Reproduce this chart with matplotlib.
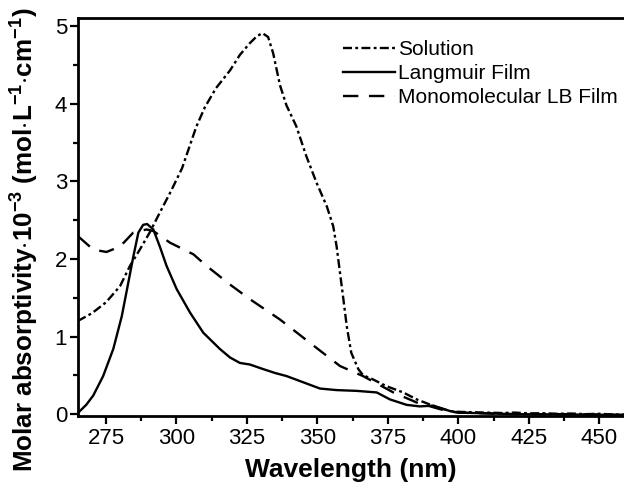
import matplotlib
matplotlib.use("Agg")
import matplotlib.pyplot as plt
from matplotlib.ticker import MultipleLocator

plt.rcParams['font.family'] = ['Liberation Sans', 'DejaVu Sans']
plt.rcParams['mathtext.fontset'] = 'custom'
plt.rcParams['mathtext.rm'] = 'Liberation Sans:bold'
plt.rcParams['mathtext.bf'] = 'Liberation Sans:bold'
plt.rcParams['mathtext.default'] = 'bf'

# Solution (dash-dot)
sol_wl = [265, 270, 275, 280, 283.5, 287, 290.5, 294, 298, 302, 307, 310, 314, 319,
          322.5, 326, 328.5, 330.5, 332.5, 334.3, 336.7, 339, 342.5, 346, 349.7,
          353.3, 355.6, 356.8, 358, 359.2, 360.4, 362, 364.5, 366.2, 369, 374.5,
          380.4, 385.2, 392.3, 397, 400, 405, 410, 415, 420, 425, 430, 435, 440,
          445, 450, 455, 459]
sol_val = [1.20, 1.30, 1.44, 1.65, 1.91, 2.12, 2.34, 2.59, 2.87, 3.17, 3.70, 3.95, 4.20, 4.43,
           4.63, 4.78, 4.87, 4.91, 4.86, 4.65, 4.24, 3.98, 3.71, 3.33, 2.98,
           2.68, 2.42, 2.16, 1.82, 1.48, 1.13, 0.79, 0.58, 0.50, 0.46, 0.36,
           0.28, 0.19, 0.09, 0.04, 0.03, 0.025, 0.02, 0.015, 0.02, 0.01, 0.012, 0.005, 0.008,
           0.0, 0.005, -0.005, -0.005]

# Langmuir film (solid)
lf_wl = [265.2, 268, 270.5, 274, 277.6, 280.6, 282.9, 284.7, 286.5, 288.2, 289.6, 291.8,
         294.1, 296.5, 300.1, 304.8, 309.5, 315.4, 319, 322.5, 326, 330.8, 335, 339.1,
         345, 350.9, 356.8, 363.9, 371, 375.7, 381.6, 386.3, 391.1, 397, 400, 410, 420,
         440, 459]
lf_val = [0.02, 0.12, 0.24, 0.49, 0.84, 1.26, 1.69, 2.03, 2.34, 2.44, 2.45, 2.38,
          2.16, 1.91, 1.61, 1.31, 1.05, 0.84, 0.73, 0.66, 0.64, 0.58, 0.53, 0.49,
          0.41, 0.33, 0.31, 0.30, 0.28, 0.19, 0.12, 0.10, 0.11, 0.04, 0.02, 0.01, 0.0,
          -0.005, -0.01]

# Monomolecular LB film (dashed)
lb_wl = [265.2, 270.5, 275.2, 280, 284.7, 289.4, 291.8, 297.7, 306, 310.7, 319, 326.1,
         336.7, 347.3, 358, 366.2, 376.9, 385.2, 395.8, 400, 410, 420, 440, 459]
lb_val = [2.29, 2.12, 2.09, 2.16, 2.34, 2.38, 2.36, 2.21, 2.06, 1.91, 1.67, 1.48,
          1.22, 0.92, 0.62, 0.49, 0.28, 0.15, 0.04, 0.02, 0.01, 0.0, 0.0, -0.01]

labels = ["Solution", "Langmuir Film", "Monomolecular LB Film"]

fig = plt.figure(figsize=(6.24, 4.84), dpi=100)
ax = fig.add_axes([0.1255, 0.1395, 1.0 - 0.1255, 0.962 - 0.1395])

lw = 1.7
ax.plot(sol_wl, sol_val, color='black', lw=lw, dashes=(3.8, 1.4, 1.2, 1.4), label=labels[0])
ax.plot(lf_wl, lf_val, color='black', lw=lw, linestyle='-', label=labels[1])
ax.plot(lb_wl, lb_val, color='black', lw=lw, dashes=(6.5, 4.5), label=labels[2])

ax.set_xlim(265.2, 458.7)
ax.set_ylim(-0.03, 5.10)
ax.xaxis.set_major_locator(MultipleLocator(25))
ax.xaxis.set_minor_locator(MultipleLocator(12.5))
ax.yaxis.set_major_locator(MultipleLocator(1))
ax.yaxis.set_minor_locator(MultipleLocator(0.5))
ax.set_xticks([275, 300, 325, 350, 375, 400, 425, 450])

ax.spines['right'].set_visible(False)
for s in ['left', 'bottom', 'top']:
    ax.spines[s].set_linewidth(2.0)
ax.tick_params(which='major', direction='out', length=6, width=1.6, labelsize=16, pad=2)
ax.tick_params(which='minor', direction='out', length=3.5, width=1.6)
ax.tick_params(top=False, right=False, which='both')

ax.set_xlabel("Wavelength (nm)", fontsize=19, fontweight='bold', labelpad=7)
ax.set_ylabel(r"Molar absorptivity$\cdot$10$^{-3}$ (mol$\cdot$L$^{-1}$$\cdot$cm$^{-1}$)",
              fontsize=18.7, fontweight='bold')
ax.yaxis.set_label_coords(-0.068, 0.445)

leg = ax.legend(loc='upper left', bbox_to_anchor=(0.485, 0.946), frameon=False,
                fontsize=15, handlelength=2.5, handletextpad=0.15, labelspacing=0.24,
                borderaxespad=0, borderpad=0)

fig.savefig("out.png", dpi=100, facecolor='white')
